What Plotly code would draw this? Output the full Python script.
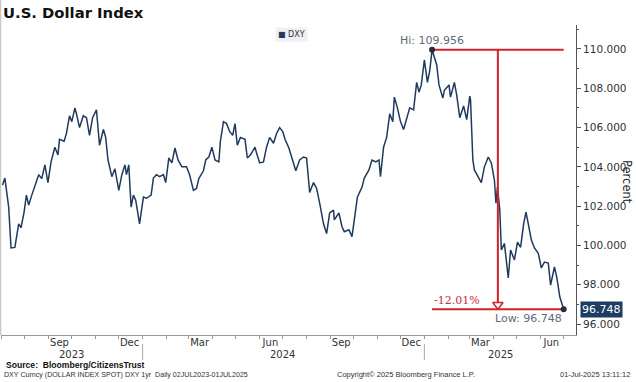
import plotly.graph_objects as go
import pandas as pd

# ---- data ----
dates = [
    "2023-07-03", "2023-07-06", "2023-07-11", "2023-07-14", "2023-07-19", "2023-07-24", "2023-07-27", "2023-07-31",
    "2023-08-03", "2023-08-06", "2023-08-10", "2023-08-14", "2023-08-19", "2023-08-23", "2023-08-27", "2023-08-31",
    "2023-09-04", "2023-09-09", "2023-09-13", "2023-09-15", "2023-09-21", "2023-09-24", "2023-09-28", "2023-10-01",
    "2023-10-05", "2023-10-07", "2023-10-11", "2023-10-16", "2023-10-20", "2023-10-24", "2023-10-28", "2023-11-02",
    "2023-11-06", "2023-11-11", "2023-11-14", "2023-11-17", "2023-11-19", "2023-11-22", "2023-11-26", "2023-12-01",
    "2023-12-05", "2023-12-09", "2023-12-11", "2023-12-14", "2023-12-17", "2023-12-20", "2023-12-23", "2023-12-28",
    "2024-01-02", "2024-01-06", "2024-01-12", "2024-01-15", "2024-01-19", "2024-01-23", "2024-01-28", "2024-01-31",
    "2024-02-04", "2024-02-08", "2024-02-12", "2024-02-16", "2024-02-21", "2024-02-27", "2024-03-02", "2024-03-07",
    "2024-03-11", "2024-03-14", "2024-03-20", "2024-03-23", "2024-03-27", "2024-03-31", "2024-04-04", "2024-04-09",
    "2024-04-11", "2024-04-15", "2024-04-19", "2024-04-23", "2024-04-27", "2024-04-30", "2024-05-03", "2024-05-07",
    "2024-05-13", "2024-05-16", "2024-05-20", "2024-05-26", "2024-05-28", "2024-06-01", "2024-06-06", "2024-06-10",
    "2024-06-14", "2024-06-19", "2024-06-23", "2024-06-27", "2024-07-01", "2024-07-04", "2024-07-09", "2024-07-14",
    "2024-07-18", "2024-07-23", "2024-07-28", "2024-08-01", "2024-08-05", "2024-08-10", "2024-08-14", "2024-08-18",
    "2024-08-23", "2024-08-27", "2024-08-31", "2024-09-05", "2024-09-06", "2024-09-12", "2024-09-16", "2024-09-19",
    "2024-09-25", "2024-09-29", "2024-10-02", "2024-10-06", "2024-10-12", "2024-10-15", "2024-10-21", "2024-10-25",
    "2024-10-30", "2024-11-03", "2024-11-05", "2024-11-09", "2024-11-13", "2024-11-17", "2024-11-21", "2024-11-23",
    "2024-11-27", "2024-12-01", "2024-12-05", "2024-12-09", "2024-12-13", "2024-12-18", "2024-12-22", "2024-12-25",
    "2024-12-28", "2025-01-01", "2025-01-05", "2025-01-08", "2025-01-11", "2025-01-17", "2025-01-20", "2025-01-25",
    "2025-01-27", "2025-02-02", "2025-02-04", "2025-02-09", "2025-02-12", "2025-02-16", "2025-02-21", "2025-02-25",
    "2025-03-01", "2025-03-02", "2025-03-05", "2025-03-07", "2025-03-12", "2025-03-16", "2025-03-20", "2025-03-25",
    "2025-03-29", "2025-04-02", "2025-04-04", "2025-04-06", "2025-04-09", "2025-04-11", "2025-04-15", "2025-04-20",
    "2025-04-23", "2025-04-28", "2025-05-02", "2025-05-06", "2025-05-10", "2025-05-13", "2025-05-16", "2025-05-20",
    "2025-05-24", "2025-05-29", "2025-06-02", "2025-06-06", "2025-06-11", "2025-06-14", "2025-06-19", "2025-06-22",
    "2025-06-26", "2025-07-01",
]
values = [
    103.07, 103.43, 101.95, 99.87, 99.90, 101.10, 100.90, 101.70,
    102.56, 102.05, 102.56, 103.07, 103.60, 103.40, 104.10, 103.20,
    104.25, 105.00, 104.60, 105.40, 105.30, 105.70, 106.60, 106.30,
    107.00, 106.70, 106.00, 106.60, 106.50, 105.60, 106.50, 106.90,
    105.10, 105.90, 105.50, 104.35, 104.00, 103.50, 103.90, 102.80,
    103.60, 104.10, 103.60, 104.10, 101.95, 102.56, 102.30, 101.10,
    102.46, 102.40, 102.56, 103.43, 103.60, 103.50, 103.60, 103.20,
    104.45, 104.20, 104.96, 104.35, 104.00, 104.00, 103.60, 102.80,
    102.90, 103.40, 103.80, 104.35, 104.50, 105.00, 104.35, 104.25,
    105.30, 106.30, 106.20, 105.80, 105.60, 106.20, 105.10, 105.50,
    105.40, 104.45, 104.60, 105.00, 104.70, 104.20, 104.25, 105.00,
    105.50, 105.20, 105.70, 106.00, 105.80, 105.40, 104.96, 104.35,
    103.80, 104.35, 104.50, 104.45, 102.70, 103.20, 102.90, 102.15,
    101.10, 100.60, 101.65, 101.80, 101.30, 101.65, 100.95, 100.70,
    100.80, 100.45, 101.45, 102.46, 102.97, 103.43, 103.84, 104.35,
    104.25, 104.35, 103.50, 105.00, 105.50, 106.70, 106.30, 107.55,
    107.00, 106.30, 105.90, 106.50, 107.00, 106.90, 108.30, 107.80,
    108.17, 109.44, 108.30, 108.90, 109.956, 109.20, 108.17, 107.50,
    107.90, 108.17, 107.55, 108.30, 107.66, 106.50, 107.10, 106.40,
    107.60, 107.40, 104.35, 103.84, 103.50, 103.20, 104.00, 104.50,
    104.20, 103.33, 102.15, 102.97, 101.80, 99.77, 100.10, 98.34,
    99.77, 99.26, 100.17, 99.90, 101.10, 101.70, 101.10, 100.27,
    99.87, 99.60, 98.85, 99.15, 99.10, 97.98, 98.90, 98.39,
    97.37, 96.748,
]
y_ticks = [96, 98, 100, 102, 104, 106, 108, 110]
month_tick_dates = ["2023-09-15", "2023-12-15", "2024-03-15", "2024-06-15",
                    "2024-09-15", "2024-12-15", "2025-03-15", "2025-06-15"]
month_tick_text = ["Sep", "Dec", "Mar", "Jun", "Sep", "Dec", "Mar", "Jun"]
year_labels = ["2023", "2024", "2025"]
year_label_dates = ["2023-10-01", "2024-07-01", "2025-04-10"]
year_breaks = ["2024-01-01", "2025-01-01"]

# ---- derived ----
s = pd.Series(values, index=pd.to_datetime(dates))
hi_date, hi_val = s.idxmax(), s.max()
lo_date, lo_val = s.index[-1], s.iloc[-1]
mid_date = hi_date + (lo_date - hi_date) / 2
pct = (lo_val / hi_val - 1) * 100

W, H = 636, 382
ML, MR, MT, MB = 1, 60, 25, 47
PLOT_W = W - ML - MR
PLOT_H = H - MT - MB
Y_RANGE = [95.44, 111.22]
px_to_y = (Y_RANGE[1] - Y_RANGE[0]) / PLOT_H


def pxx(p):
    return (p - ML) / PLOT_W


def pxy(p):
    return (H - MB - p) / PLOT_H


NAVY = "#1f3a5c"
RED = "#d3222a"
GREY_TXT = "#5f6b78"
FONT = "DejaVu Sans"

fig = go.Figure()
fig.add_trace(go.Scatter(x=s.index, y=s.values, mode="lines", name="DXY",
                         line=dict(color=NAVY, width=1.5), showlegend=False))
fig.add_trace(go.Scatter(x=[hi_date, lo_date], y=[hi_val, hi_val], mode="lines",
                         line=dict(color=RED, width=2), showlegend=False))
fig.add_trace(go.Scatter(x=[hi_date, lo_date], y=[lo_val, lo_val], mode="lines",
                         line=dict(color=RED, width=2), showlegend=False))
fig.add_trace(go.Scatter(x=[mid_date, mid_date], y=[hi_val, lo_val], mode="lines",
                         line=dict(color=RED, width=2), showlegend=False))
fig.add_trace(go.Scatter(x=[mid_date], y=[lo_val + 4.5 * px_to_y], mode="markers",
                         marker=dict(symbol="triangle-down", size=9, color="white",
                                     line=dict(color=RED, width=1.5)),
                         showlegend=False))
fig.add_trace(go.Scatter(x=[hi_date, lo_date], y=[hi_val, lo_val], mode="markers",
                         marker=dict(size=6, color="#2b2b3a"), showlegend=False))


def note(x, y, text, xref="paper", yref="paper", xanchor="center",
         yanchor="middle", **kw):
    d = dict(x=x, y=y, xref=xref, yref=yref, text=text, showarrow=False,
             xanchor=xanchor, yanchor=yanchor)
    d.update(kw)
    return d


annotations = [
    note(hi_date, hi_val, f"Hi: {hi_val:.3f}", xref="x", yref="y",
         yanchor="bottom", yshift=1,
         font=dict(family=FONT, size=11, color=GREY_TXT)),
    note(lo_date, lo_val, f"Low: {lo_val:.3f}", xref="x", yref="y",
         xanchor="right", yanchor="top", yshift=-1,
         font=dict(family=FONT, size=11, color=GREY_TXT)),
    note(hi_date, lo_val, f"{pct:.2f}%", xref="x", yref="y",
         xanchor="left", yanchor="bottom",
         font=dict(family="DejaVu Serif", size=11, color="#c8303a")),
    note(1, lo_val, f"{lo_val:.3f}", yref="y", xanchor="left", xshift=4,
         bgcolor="#1d3d63", borderpad=1,
         font=dict(family=FONT, size=11, color="white")),
    note(pxx(627), pxy(182), "Percent", textangle=90,
         font=dict(family=FONT, size=11.5, color="#222")),
    note(pxx(275), pxy(35), f"<span style='color:{NAVY}'>■</span> DXY",
         xanchor="left", bgcolor="#eef0f3", borderpad=2,
         font=dict(family=FONT, size=8, color="#333")),
    note(pxx(4), pxy(365), "<b>Source:  Bloomberg/CitizensTrust</b>",
         xanchor="left", font=dict(family="Liberation Sans", size=8.6, color="#111")),
    note(pxx(2), pxy(375),
         "DXY Curncy (DOLLAR INDEX SPOT) DXY 1yr  Daily 02JUL2023-01JUL2025",
         xanchor="left", font=dict(family="Liberation Sans", size=7.1, color="#333")),
    note(pxx(335), pxy(375), "Copyright© 2025 Bloomberg Finance L.P.",
         xanchor="left", font=dict(family="Liberation Sans", size=7.5, color="#333")),
    note(pxx(632), pxy(375), "01-Jul-2025 13:11:12", xanchor="right",
         font=dict(family="Liberation Sans", size=7.5, color="#333")),
]
for lbl, d in zip(year_labels, year_label_dates):
    annotations.append(note(d, pxy(354), lbl, xref="x",
                            font=dict(family=FONT, size=10, color="#333")))

shapes = []
for d in year_breaks:
    shapes.append(dict(type="line", xref="x", yref="paper", x0=d, x1=d,
                       y0=pxy(344), y1=pxy(360),
                       line=dict(color="#aaaaaa", width=1)))
shapes.append(dict(type="line", xref="paper", yref="paper", x0=pxx(0.5), x1=pxx(0.5),
                   y0=0, y1=pxy(0), line=dict(color="#c8c8c8", width=1.5)))

fig.update_layout(
    width=W, height=H,
    margin=dict(l=ML, r=MR, t=MT, b=MB),
    paper_bgcolor="white", plot_bgcolor="white",
    title=dict(text="<b>U.S. Dollar Index</b>", x=3 / W, xanchor="left",
               y=1 - 13 / H, yanchor="middle", yref="container",
               font=dict(family=FONT, size=14.8, color="#111")),
    showlegend=False,
    annotations=annotations,
    shapes=shapes,
    xaxis=dict(type="date", range=["2023-07-01", "2025-07-17"],
               showgrid=False, zeroline=False, showline=True,
               linecolor="#999999", linewidth=1,
               tickvals=month_tick_dates, ticktext=month_tick_text,
               ticks="", ticklabelstandoff=-2,
               tickfont=dict(family=FONT, size=10, color="#333"),
               minor=dict(ticks="outside", dtick="M1", tick0="2023-07-01",
                          ticklen=3, tickcolor="#999999")),
    yaxis=dict(side="right", range=Y_RANGE, showgrid=False, zeroline=False,
               showline=True, linecolor="#555555", linewidth=1,
               tickvals=y_ticks, tickformat=".3f",
               ticks="outside", ticklen=4, tickcolor="#555555",
               tickfont=dict(family=FONT, size=10.5, color="#333"),
               minor=dict(ticks="outside", dtick=1, ticklen=2, tickcolor="#555555")),
)

fig.write_html("out.html", config={"displayModeBar": False},
               post_script="document.body.style.margin='0';document.body.style.padding='0';")
